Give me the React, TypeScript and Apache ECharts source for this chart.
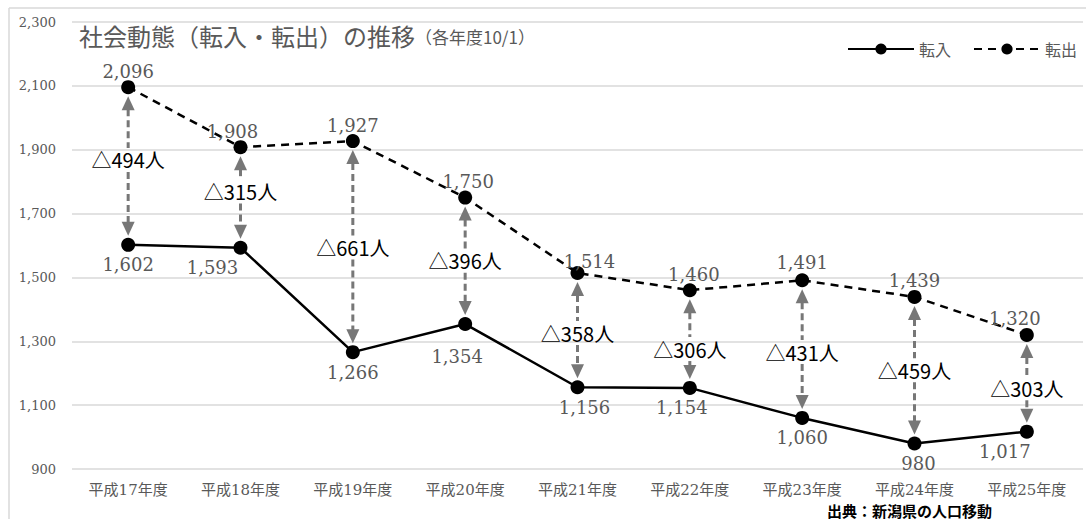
import React, { useEffect, useRef } from "react";
import * as echarts from "echarts";

const categories = ["平成17年度", "平成18年度", "平成19年度", "平成20年度", "平成21年度", "平成22年度", "平成23年度", "平成24年度", "平成25年度"];
const inflow = [1602, 1593, 1266, 1354, 1156, 1154, 1060, 980, 1017];
const outflow = [2096, 1908, 1927, 1750, 1514, 1460, 1491, 1439, 1320];
const netDecrease = [494, 315, 661, 396, 358, 306, 431, 459, 303];
const yMin = 900;
const yMax = 2300;
const yStep = 200;

// label nudges (px) – presentation only
const inLabelOffset = [[0, 0], [-28, 0], [0, 0], [-8, 12], [7, 0], [-8, 0], [0, 0], [4, 0], [-22, 0]];
const outLabelOffset = [[0, 0], [-8, 0], [0, 0], [3, 0], [12, 5], [4, 0], [0, -2], [0, 0], [-12, 0]];
const arrowLabelShift = [-6, -6, 1, 0, 3, 10, 3, 0, 5];

const GRAY = "#777777";
const TXT = "#595959";
const SERIF = "DejaVu Serif, Liberation Serif, Noto Sans CJK JP, serif";
const SANS = "Noto Sans CJK JP, Noto Sans, sans-serif";

export default function App() {
  const ref = useRef<HTMLDivElement>(null);
  useEffect(() => {
    if (!ref.current) return;
    const chart = echarts.init(ref.current, null, { renderer: "svg" });
    const arrowData = categories.map((_, i) => [i, inflow[i], outflow[i], netDecrease[i]]);
    chart.setOption({
      animation: false,
      backgroundColor: "#ffffff",
      title: {
        left: 74,
        top: 18,
        text: "{a|社会動態（転入・転出）の推移}{b|（各年度10/1）}",
        textStyle: {
          rich: {
            a: { fontSize: 24, color: TXT, fontFamily: SANS, fontWeight: "normal" },
            b: { fontSize: 17, color: TXT, fontFamily: SANS, fontWeight: "normal", padding: [4, 0, 0, 0] },
          },
        },
      },
      legend: {
        right: 4,
        top: 36,
        itemWidth: 66,
        itemHeight: 14,
        itemGap: 22,
        data: ["転入", "転出"],
        textStyle: { fontSize: 16, color: TXT, fontFamily: SANS },
      },
      grid: { left: 72, right: 3, top: 22, bottom: 50 },
      xAxis: {
        type: "category",
        data: categories,
        boundaryGap: true,
        axisLine: { show: false },
        axisTick: { show: false },
        axisLabel: { color: TXT, fontSize: 15, fontFamily: SERIF, margin: 13 },
      },
      yAxis: {
        type: "value",
        min: yMin,
        max: yMax,
        interval: yStep,
        axisLine: { show: false },
        axisTick: { show: false },
        splitLine: { lineStyle: { color: "#d9d9d9", width: 1.5 } },
        axisLabel: {
          color: TXT,
          fontSize: 13,
          fontFamily: SERIF,
          margin: 16,
          formatter: (v: number) => v.toLocaleString("en-US"),
        },
      },
      graphic: [
        { type: "line", shape: { x1: 9, y1: 8, x2: 1086, y2: 8 }, style: { stroke: "#d9d9d9", lineWidth: 1.5 } },
        { type: "line", shape: { x1: 9, y1: 8, x2: 9, y2: 519 }, style: { stroke: "#d9d9d9", lineWidth: 1.5 } },
        {
          type: "text",
          x: 827,
          y: 510,
          style: { text: "出典：新潟県の人口移動", fill: "#000", fontSize: 15, fontWeight: "bold", fontFamily: SANS, verticalAlign: "middle" },
        },
      ],
      series: [
        {
          name: "転入",
          type: "line",
          z: 3,
          data: inflow.map((v, i) => ({
            value: v,
            label: { offset: inLabelOffset[i] },
          })),
          symbol: "circle",
          symbolSize: 14,
          itemStyle: { color: "#000" },
          lineStyle: { color: "#000", width: 2.5 },
          label: {
            show: true,
            position: "bottom",
            distance: 4,
            color: TXT,
            fontSize: 18,
            fontFamily: SERIF,
            formatter: (p: any) => Number(p.value).toLocaleString("en-US"),
          },
        },
        {
          name: "転出",
          type: "line",
          z: 3,
          data: outflow.map((v, i) => ({
            value: v,
            label: { offset: outLabelOffset[i] },
          })),
          symbol: "circle",
          symbolSize: 14,
          itemStyle: { color: "#000" },
          lineStyle: { color: "#000", width: 2.5, type: [8, 6] },
          label: {
            show: true,
            position: "top",
            distance: 0,
            color: TXT,
            fontSize: 18,
            fontFamily: SERIF,
            formatter: (p: any) => Number(p.value).toLocaleString("en-US"),
          },
        },
        {
          name: "差",
          type: "custom",
          z: 1,
          data: arrowData,
          renderItem: (params: any, api: any) => {
            const i = api.value(0);
            const top = api.coord([i, api.value(2)]);
            const bot = api.coord([i, api.value(1)]);
            const x = top[0];
            const ly = (top[1] + bot[1]) / 2 + arrowLabelShift[params.dataIndex];
            const head = 14;
            const hw = 6.5;
            const gap = 12;
            const tipTop = top[1] + 9;
            const tipBot = bot[1] - 9;
            const dash = { stroke: GRAY, lineWidth: 3, lineDash: [7, 4] };
            return {
              type: "group",
              children: [
                { type: "line", shape: { x1: x, y1: tipTop + head - 1, x2: x, y2: ly - gap }, style: dash },
                { type: "polygon", shape: { points: [[x, tipTop], [x - hw, tipTop + head], [x + hw, tipTop + head]] }, style: { fill: GRAY } },
                { type: "line", shape: { x1: x, y1: ly + gap, x2: x, y2: tipBot - head + 1 }, style: dash },
                { type: "polygon", shape: { points: [[x, tipBot], [x - hw, tipBot - head], [x + hw, tipBot - head]] }, style: { fill: GRAY } },
                {
                  type: "text",
                  x,
                  y: ly,
                  style: {
                    text: "△" + api.value(3) + "人",
                    fill: "#000",
                    fontSize: 20,
                    fontFamily: SANS,
                    align: "center",
                    verticalAlign: "middle",
                  },
                },
              ],
            };
          },
        },
      ],
    });
    return () => chart.dispose();
  }, []);
  return <div ref={ref} style={{ position: "fixed", left: 0, top: 0, width: 1086, height: 519 }} />;
}
